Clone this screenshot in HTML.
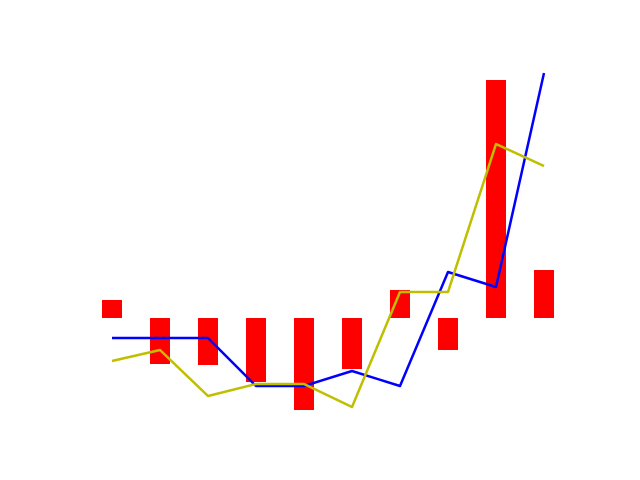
<!DOCTYPE html>
<html>
<head>
<meta charset="utf-8">
<style>
  html, body { margin: 0; padding: 0; background: #fff; }
  svg { display: block; }
</style>
</head>
<body>
<svg id="chart" width="640" height="480"></svg>
<script>
const categories = [0, 1, 2, 3, 4, 5, 6, 7, 8, 9];
const barValues = [18, -46, -47, -64, -92, -51, 28, -32, 238, 48];
const blueValues = [-20, -20, -20, -68, -68, -53, -68, 46, 31, 245];
const yellowValues = [-43, -32, -78, -66, -66, -89, 26, 26, 174, 152];

const svg = document.getElementById('chart');
const NS = 'http://www.w3.org/2000/svg';
function xScale(i) { return 112 + i * 48; }
function yScale(v) { return 318 - v; }

const barGroup = document.createElementNS(NS, 'g');


svg.appendChild(barGroup);
categories.forEach((c, i) => {
  const v = barValues[i];
  const r = document.createElementNS(NS, 'rect');
  r.setAttribute('x', xScale(c) - 10);
  r.setAttribute('width', 20);
  r.setAttribute('y', Math.min(yScale(v), yScale(0)));
  r.setAttribute('height', Math.abs(yScale(v) - yScale(0)));
  r.setAttribute('fill', '#ff0000');
  
  
  barGroup.appendChild(r);
});

function drawLine(vals, color, name) {
  const p = document.createElementNS(NS, 'polyline');
  p.setAttribute('points', categories.map((c, i) => xScale(c) + ',' + yScale(vals[i])).join(' '));
  p.setAttribute('fill', 'none');
  p.setAttribute('stroke', color);
  p.setAttribute('stroke-width', 2.5);
  p.setAttribute('stroke-linejoin', 'round');
  
  
  svg.appendChild(p);
}
drawLine(blueValues, '#0000ff', 'blue-line');
drawLine(yellowValues, '#bfbf00', 'yellow-line');
</script>
</body>
</html>
